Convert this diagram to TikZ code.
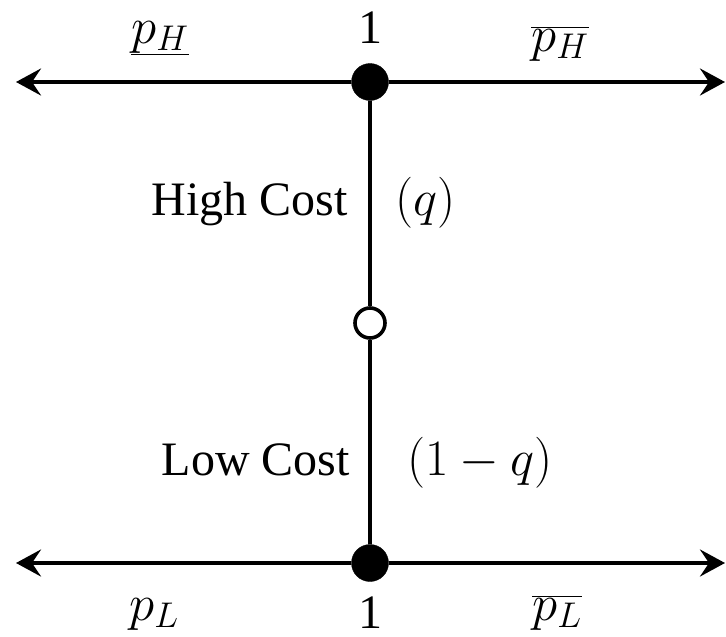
\RequirePackage{fix-cm}
\documentclass[tikz,border=0pt]{standalone}
\usepackage{fontspec}
\setmainfont{Liberation Serif}
\usetikzlibrary{arrows.meta}

\begin{document}
\begin{tikzpicture}[
		x=1pt, y=-1pt,
		d/.style = {circle, draw, fill=black,	inner sep=0pt, minimum size=37pt},
		o/.style = {circle, draw, fill=white,	line width=3.6pt, inner sep=0pt, minimum size=30pt},
		r/.style = {-{Stealth[length=25pt, width=27pt, inset=9pt]}, line width=3.6pt},
		l/.style = {line width=3.6pt},
		t/.style = {inner sep=0pt, font=\fontsize{48}{56}\selectfont},
		m/.style = {inner sep=0pt, font=\fontsize{51}{60}\selectfont},
		]
		\useasboundingbox (0, 0) rectangle (726, 637);
		
		% === === Nodes === ===
		\node[d]		(hi)	at	(370, 82)		{};
		\node[o]		(mid)	at	(370, 323)		{};
		\node[d]		(lo)	at	(370, 563)		{};
		
		\coordinate		(hiL)	at	(16, 82);
		\coordinate		(hiR)	at	(725, 82);
		\coordinate		(loL)	at	(16, 563);
		\coordinate		(loR)	at	(725, 563);
		
		% === === Labels === ===
		\node[m]					(pHlo)	at	(160, 38)		{$\underline{p_H}$};
		\node[t, anchor=base]		(oneH)	at	(370, 43)		{1};
		\node[m]					(pHhi)	at	(560, 44)		{$\overline{p_H}$};
		\node[t, anchor=base east]	(hc)	at	(348, 215)		{High Cost};
		\node[m, anchor=base west]	(q)		at	(395, 215)		{$(q)$};
		\node[t, anchor=base east]	(lc)	at	(350, 475)		{Low Cost};
		\node[m, anchor=base west]	(q1)	at	(407, 475)		{$(1-q)$};
		\node[m, anchor=base]		(pLlo)	at	(154, 620)		{$p_L$};
		\node[t, anchor=base]		(oneL)	at	(370, 628)		{1};
		\node[m, anchor=base]		(pLhi)	at	(557, 620)		{$\overline{p_L}$};
		
		% === === Lines === ===
		\draw[l]		(hi)	--	(mid);
		\draw[l]		(mid)	--	(lo);
		\draw[r]		(hi)	--	(hiL);
		\draw[r]		(hi)	--	(hiR);
		\draw[r]		(lo)	--	(loL);
		\draw[r]		(lo)	--	(loR);
		
	\end{tikzpicture}
\end{document}
